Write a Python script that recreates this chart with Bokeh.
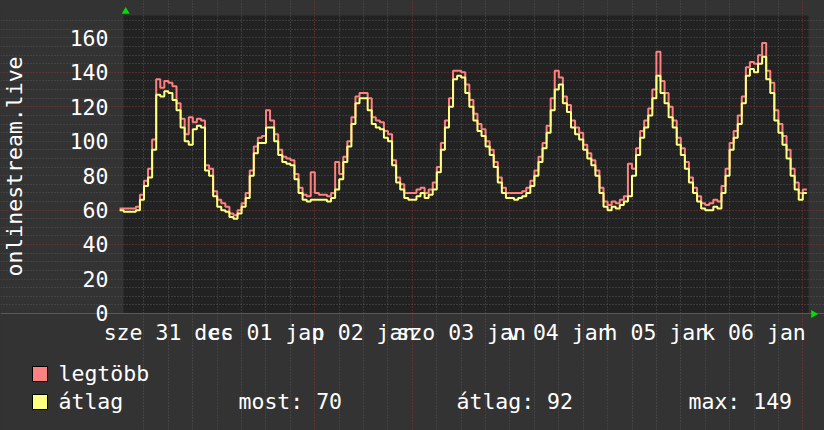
import math
from bokeh.plotting import figure
from bokeh.models import FixedTicker, Grid, Range1d, GlobalInlineStyleSheet
from bokeh.core.properties import value
from bokeh.embed import file_html
from bokeh.resources import INLINE

# ---- data (hours since 31 Dec 00:00, one value per hour) ----
hours = list(range(170))

avg_values = [
    60, 59, 59, 59, 60, 66, 74, 79, 95, 127, 126, 129, 128, 124, 118, 108, 100, 98, 107, 109, 108, 83, 80, 68,
    62, 60, 59, 56, 55, 58, 62, 67, 80, 93, 99, 99, 108, 108, 100, 92, 88, 87, 86, 78, 70, 66, 65, 66,
    66, 66, 66, 65, 67, 72, 78, 88, 97, 110, 122, 125, 125, 118, 110, 108, 107, 102, 100, 86, 76, 72, 67, 66,
    66, 68, 70, 67, 69, 72, 82, 95, 108, 120, 136, 138, 137, 128, 120, 112, 106, 103, 97, 92, 85, 76, 70, 67,
    67, 66, 67, 68, 70, 74, 80, 88, 96, 105, 118, 130, 133, 122, 117, 108, 104, 101, 95, 90, 86, 80, 70, 62,
    60, 62, 61, 63, 65, 68, 80, 92, 102, 108, 115, 125, 138, 128, 122, 114, 108, 98, 92, 84, 76, 70, 65, 61,
    60, 60, 62, 61, 70, 80, 95, 102, 110, 122, 138, 142, 140, 145, 149, 136, 128, 112, 105, 98, 90, 80, 72, 66, 70, 70,
]

max_values = [
    61, 61, 61, 61, 62, 69, 77, 84, 101, 136, 131, 135, 134, 132, 122, 113, 104, 114, 111, 113, 112, 86, 84, 71,
    66, 64, 62, 58, 57, 60, 64, 70, 83, 97, 102, 103, 118, 112, 104, 95, 91, 90, 89, 81, 73, 69, 68, 82,
    70, 69, 69, 68, 70, 88, 81, 91, 100, 114, 126, 128, 128, 125, 114, 112, 111, 106, 104, 89, 79, 75, 70, 70,
    70, 72, 73, 70, 72, 76, 85, 99, 112, 125, 141, 141, 140, 133, 124, 116, 110, 107, 100, 95, 88, 79, 73, 70,
    70, 70, 70, 71, 73, 77, 83, 91, 99, 109, 125, 141, 137, 126, 121, 112, 108, 105, 98, 93, 89, 83, 73, 65,
    63, 65, 64, 66, 68, 87, 84, 96, 106, 112, 119, 130, 152, 135, 128, 120, 112, 102, 96, 88, 79, 73, 68, 64,
    63, 64, 66, 65, 74, 84, 99, 106, 115, 126, 143, 146, 145, 150, 157, 141, 134, 118, 110, 103, 95, 84, 76, 70, 72, 72,
]

day_label_hours = [12, 36, 60, 84, 108, 132, 156]
day_labels = ["sze 31 dec", "cs 01 jan", "p 02 jan", "szo 03 jan", "v 04 jan", "h 05 jan", "k 06 jan"]
y_ticks = [0, 20, 40, 60, 80, 100, 120, 140, 160]
series_names = ["legtöbb", "átlag"]
series_colors = ["#ff8080", "#ffff80"]
stat_now = 70
stat_mean = 92
stat_max = 149
y_title = "onlinestream.live"

# ---- layout / style (positions in window pixels) ----
W, H = 824, 430
X_START, X_END = 0.96, 169.4      # plot-area limits (hours)
Y_TOP = 173.0                     # plot-area top (value)
PX_PER_H = 4.0667                 # pixels per hour
PX_PER_V = 1.7225                 # pixels per unit
PLOT_LEFT_PX, PLOT_BOTTOM_PX = 123, 313
TEXT_SHIFT = 8                    # measured offset of rendered text baselines

def hx(px):   # window pixel -> hours
    return X_START + (px - PLOT_LEFT_PX) / PX_PER_H

def vy(py):   # window pixel -> value
    return (PLOT_BOTTOM_PX - py) / PX_PER_V

FONT = "DejaVu Sans Mono"
FS = "21.5px"
TXT = "#ffffff"
BACK = "#333333"
CANVAS = "#222222"
ARROW = "#00dd00"

p = figure(width=W, height=H,
           x_range=Range1d(hx(0), hx(W)), y_range=Range1d(vy(H), vy(0)),
           x_axis_type=None, y_axis_type=None,
           output_backend="svg", toolbar_location=None, min_border=0,
           background_fill_color=BACK, border_fill_color=BACK, outline_line_color=None)
p.title.visible = False
p.stylesheets = [GlobalInlineStyleSheet(css="html, body { background-color: #333333; }")]

# plot area background
p.quad(left=[X_START], right=[X_END], bottom=[0], top=[Y_TOP],
       fill_color=CANVAS, line_color=None, level="underlay")

# grid
minor_y = [v for v in range(5, 175, 5) if v % 20 != 0]
major_y = list(range(20, 175, 20))
minor_x = [h for h in range(6, 170, 6) if h % 24 != 0]
major_x = list(range(24, 170, 24))
for dim, ticks, col in [(1, minor_y, "#555555"), (0, minor_x, "#555555"),
                        (1, major_y, "#8a3535"), (0, major_x, "#8a3535")]:
    bounds = (X_START, X_END) if dim == 1 else (vy(317), Y_TOP)
    p.add_layout(Grid(dimension=dim, ticker=FixedTicker(ticks=ticks), bounds=bounds,
                      grid_line_color=col, grid_line_dash="1 2"))
p.add_layout(Grid(dimension=1, ticker=FixedTicker(ticks=[0]), bounds=(X_START, hx(810)),
                  grid_line_color="#5a5a5a"))

# series
p.step(hours, max_values, mode="after", line_color=series_colors[0], line_width=2)
p.step(hours, avg_values, mode="after", line_color=series_colors[1], line_width=2)

# axis arrows
p.scatter(x=[hx(125.2)], y=[vy(11)], marker="triangle", size=8, fill_color=ARROW, line_color=None)
p.scatter(x=[hx(813)], y=[vy(313.5)], marker="triangle", size=8, angle=-math.pi / 2,
          fill_color=ARROW, line_color=None)

txt = dict(text_font=value(FONT), text_font_size=FS, text_color=TXT)

# y tick labels (digits centred on the tick)
p.text(x=[hx(108)] * len(y_ticks), y=[t - (7.8 - TEXT_SHIFT) / PX_PER_V for t in y_ticks],
       text=[str(t) for t in y_ticks], text_align="right", text_baseline="alphabetic", **txt)

# x (day) labels, centred at noon
p.text(x=day_label_hours, y=[vy(340 - TEXT_SHIFT)] * len(day_label_hours), text=day_labels,
       text_align="center", text_baseline="alphabetic", **txt)

# y title (rotated: text shift acts along x)
p.text(x=[hx(22 - TEXT_SHIFT)], y=[vy(166)], text=[y_title], angle=math.pi / 2,
       text_align="center", text_baseline="alphabetic", **txt)

# legend
row_base = [381, 409]
p.quad(left=[hx(32)] * 2, right=[hx(47)] * 2,
       top=[vy(b - 15) for b in row_base], bottom=[vy(b) for b in row_base],
       fill_color=series_colors, line_color="#000000", line_width=1)
p.text(x=[hx(58)] * 2, y=[vy(b - TEXT_SHIFT) for b in row_base], text=series_names,
       text_align="left", text_baseline="alphabetic", **txt)
stats = [f"most: {stat_now}", f"átlag: {stat_mean}", f"max: {stat_max}"]
p.text(x=[hx(238), hx(456), hx(688)], y=[vy(row_base[1] - TEXT_SHIFT)] * 3, text=stats,
       text_align="left", text_baseline="alphabetic", **txt)

open("out.html", "w").write(file_html(p, INLINE))
